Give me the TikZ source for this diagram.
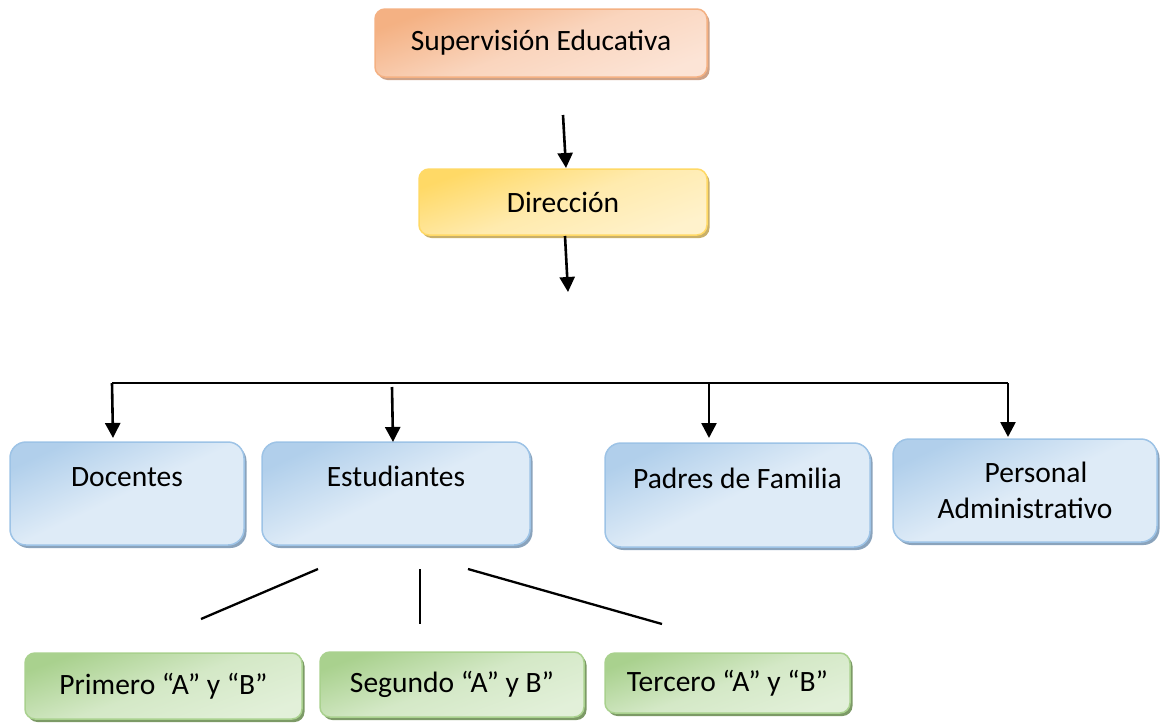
\documentclass[tikz,border=0pt]{standalone}
\usepackage{fontspec}
\setmainfont{Carlito}
\usetikzlibrary{shadows,arrows.meta}
\definecolor{orD}{HTML}{F4B183}
\definecolor{orL}{HTML}{FCE4D6}
\definecolor{orS}{HTML}{CDA288}
\definecolor{yeD}{HTML}{FFD966}
\definecolor{yeL}{HTML}{FFF2CC}
\definecolor{yeS}{HTML}{C9B06A}
\definecolor{blD}{HTML}{9DC3E6}
\definecolor{blL}{HTML}{DEEBF7}
\definecolor{blS}{HTML}{8AA3BC}
\definecolor{grD}{HTML}{A9D18E}
\definecolor{grL}{HTML}{E2F0D9}
\definecolor{grS}{HTML}{7C9A66}
\tikzset{
  basebox/.style={draw, line width=1.5pt, rectangle, inner sep=0pt,
    font=\fontsize{29.5}{36}\selectfont, align=center},
  orbox/.style={basebox, draw=orD, rounded corners=10pt,
    top color=orD, bottom color=orL, middle color=orL!70!orD, shading angle=20,
    general shadow={fill=orS, shadow xshift=2.5pt, shadow yshift=-3pt}},
  yebox/.style={basebox, draw=yeD, rounded corners=10pt,
    top color=yeD, bottom color=yeL, middle color=yeL!70!yeD, shading angle=20,
    general shadow={fill=yeS, shadow xshift=2.5pt, shadow yshift=-3pt}},
  blbox/.style={basebox, draw=blD, rounded corners=16pt,
    top color=blD!80, bottom color=blL, middle color=blL, shading angle=25,
    general shadow={fill=blS, shadow xshift=2.5pt, shadow yshift=-3pt}},
  grbox/.style={basebox, draw=grD, rounded corners=10pt,
    top color=grD, bottom color=grL, middle color=grL!75!grD, shading angle=20,
    general shadow={fill=grS, shadow xshift=2.5pt, shadow yshift=-3pt}},
  uptext/.style={text height=20pt, text depth=34pt},
  arr/.style={line width=2.6pt, -{Triangle[width=15pt,length=15pt]}},
  ln/.style={line width=2.3pt}
}
\begin{document}
\begin{tikzpicture}[x=1pt,y=-1pt]
\useasboundingbox (0,0) rectangle (1160,723);
% boxes
\node[orbox, minimum width=332pt, minimum height=68pt] (sup) at (541,43) {Supervisión Educativa};
\node[yebox, minimum width=288pt, minimum height=66pt] (dir) at (563,202) {Dirección};
\node[blbox, uptext, minimum width=234pt, minimum height=103pt] (doc) at (127,493.5) {Docentes};
\node[blbox, uptext, minimum width=268pt, minimum height=103pt] (est) at (396,493.5) {Estudiantes};
\node[blbox, uptext, minimum width=265pt, minimum height=104pt] (pad) at (737.5,495) {Padres de Familia};
\node[blbox, minimum width=264pt, minimum height=103pt] (per) at (1025,490.5) {\hspace*{22pt}Personal\\Administrativo};
\node[grbox, minimum width=277pt, minimum height=66pt] (pri) at (163.5,686) {Primero “A” y “B”};
\node[grbox, minimum width=264pt, minimum height=65pt] (seg) at (452,684.5) {Segundo “A” y B”};
\node[grbox, minimum width=245pt, minimum height=60pt] (ter) at (727.5,683) {Tercero “A” y “B”};
% free connector ends
\coordinate (a1s) at (563,115);
\coordinate (a1e) at (566,168);
\coordinate (a2s) at (565,236);
\coordinate (a2e) at (568,292);
\coordinate (hl) at (112,383);
\coordinate (hr) at (1008,383);
\coordinate (dS) at (112,383);
\coordinate (dE) at (113,438);
\coordinate (eS) at (392,387);
\coordinate (eE) at (393,442);
\coordinate (pS) at (709,383);
\coordinate (pE) at (709,438);
\coordinate (rS) at (1008,383);
\coordinate (rE) at (1008,437);
\coordinate (l1s) at (318,569);
\coordinate (l1e) at (201,619);
\coordinate (l2s) at (420,569);
\coordinate (l2e) at (420,624);
\coordinate (l3s) at (468,569);
\coordinate (l3e) at (662,624);
% connectors
\draw[arr] (a1s) -- (a1e);
\draw[arr] (a2s) -- (a2e);
\draw[ln] (hl) -- (hr);
\draw[arr] (dS) -- (dE);
\draw[arr] (eS) -- (eE);
\draw[arr] (pS) -- (pE);
\draw[arr] (rS) -- (rE);
\draw[ln] (l1s) -- (l1e);
\draw[ln] (l2s) -- (l2e);
\draw[ln] (l3s) -- (l3e);
\end{tikzpicture}
\end{document}
